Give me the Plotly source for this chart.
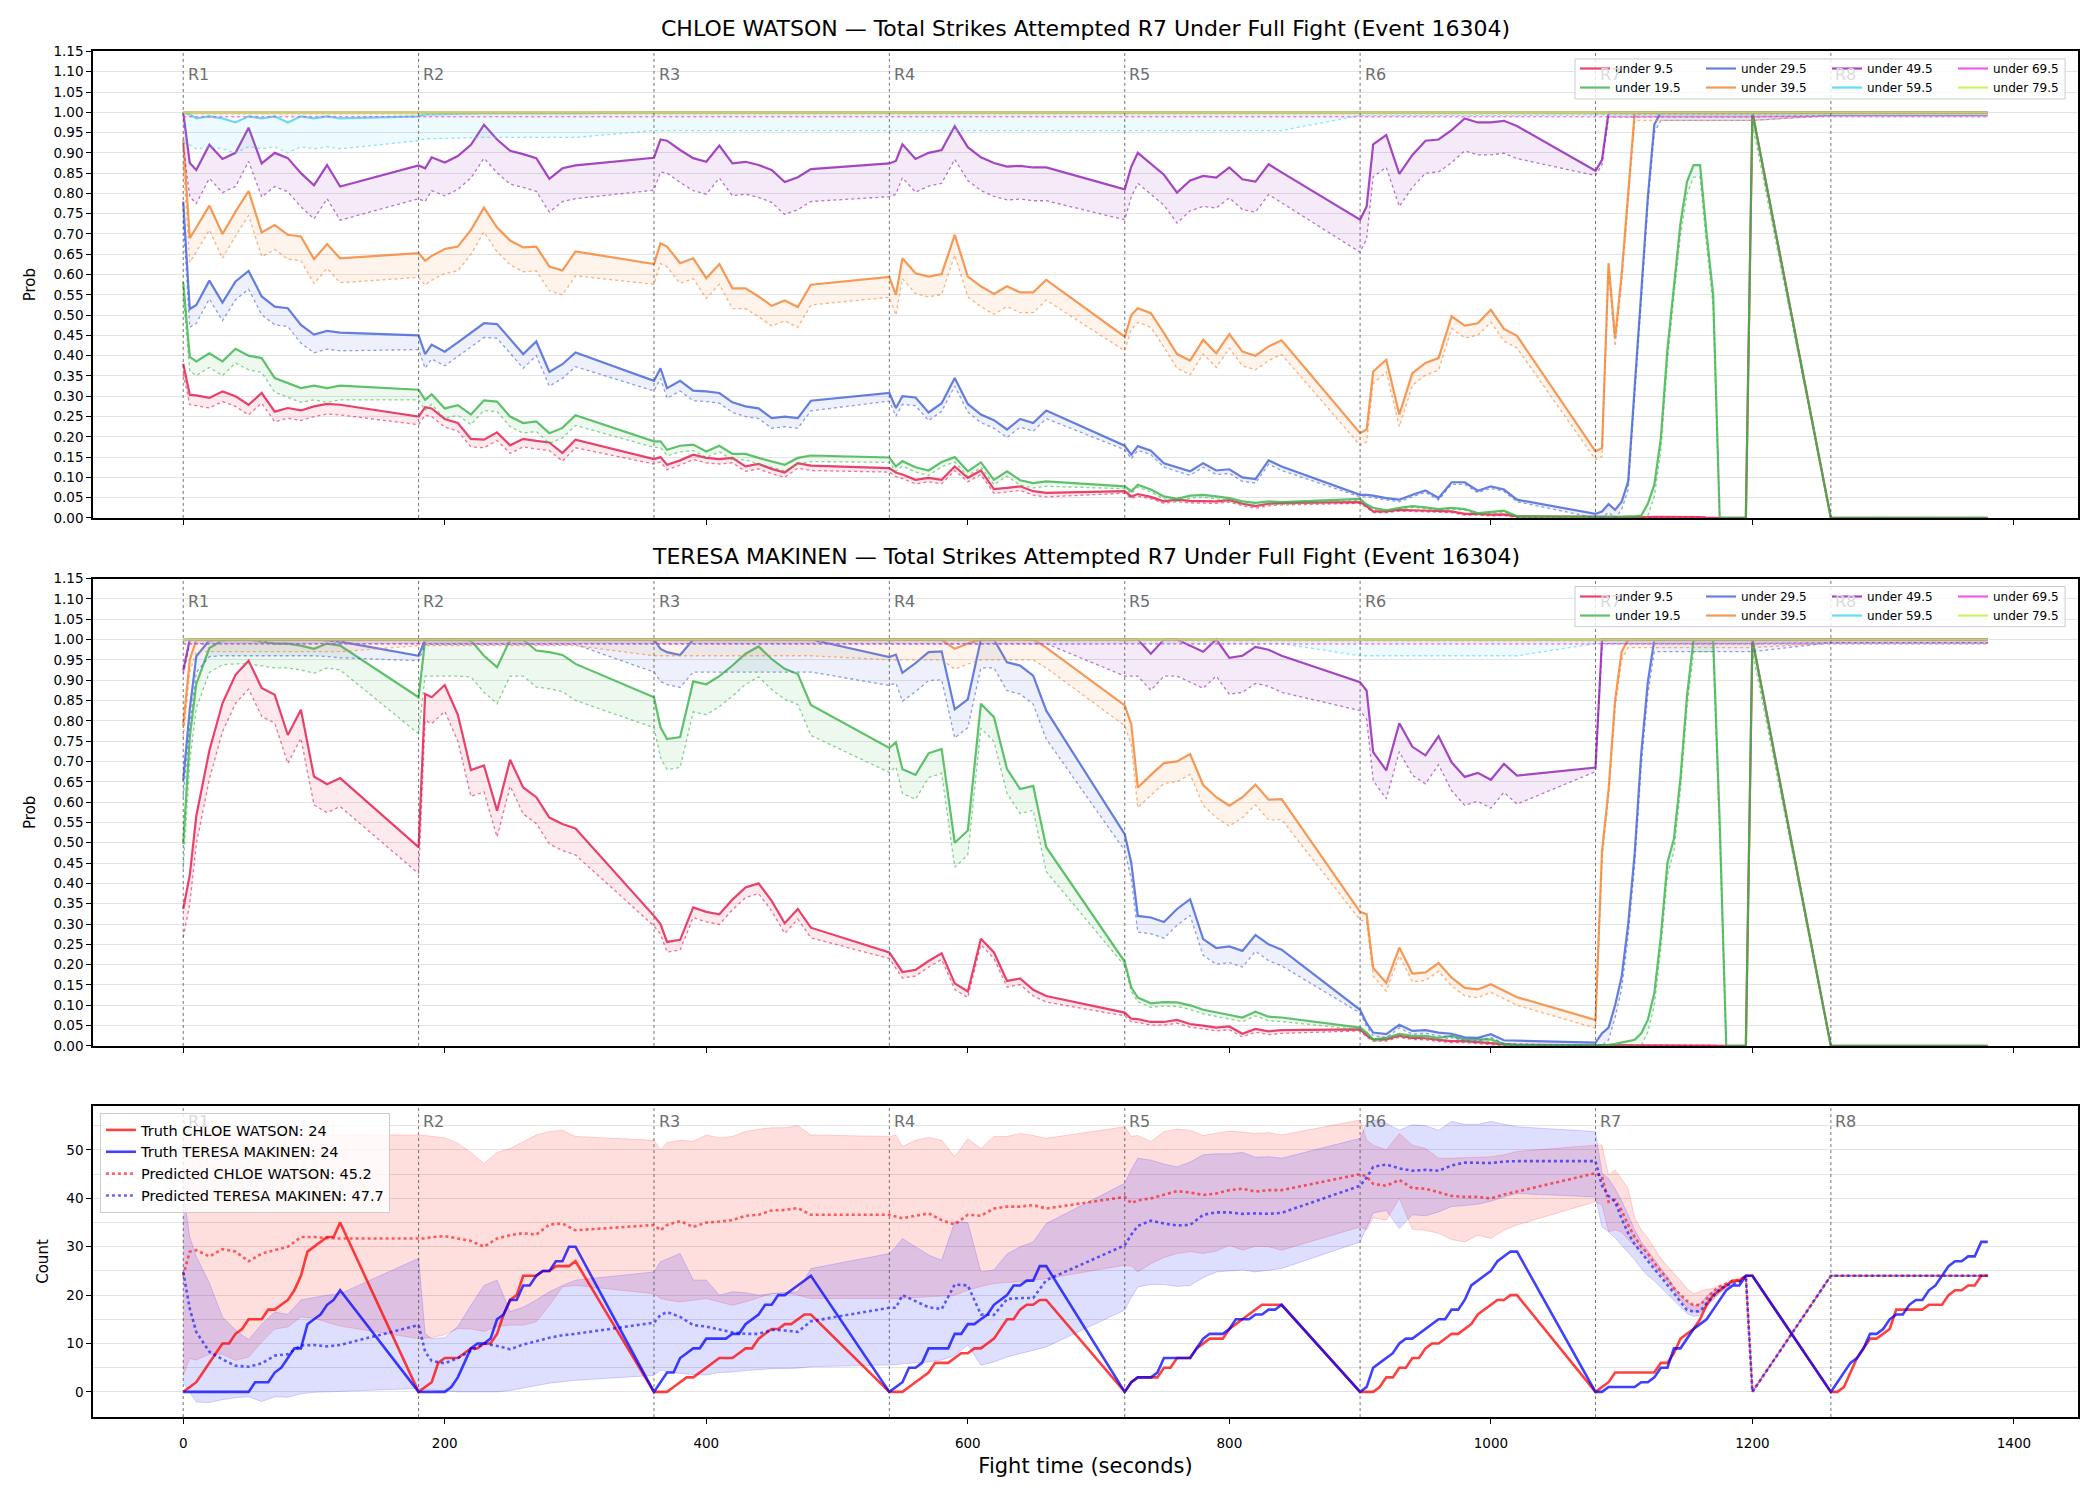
import plotly.graph_objects as go

# ---------------- time grid (seconds) ----------------
ROUND_STARTS = [0, 180, 360, 540, 720, 900, 1080, 1260]
ROUND_NAMES = ["R1", "R2", "R3", "R4", "R5", "R6", "R7", "R8"]
OFFS_STD = [0, 5, 10, 20, 30, 40, 50, 60, 70, 80, 90, 100, 110, 120]
OFFS_R7 = [0, 5, 10, 15, 20, 25, 30, 35, 40, 45, 50, 55, 60, 65, 70, 75, 80, 85, 90, 95, 100, 105, 110, 115, 120]
OFFS_R8 = [0, 120]
OFFS_TRUTH = [0, 5, 10, 15, 20, 25, 30, 35, 40, 45, 50, 55, 60, 65, 70, 75, 80, 85, 90, 95, 100, 105, 110, 115, 120]

THRESHOLDS = [9.5, 19.5, 29.5, 39.5, 49.5, 59.5, 69.5, 79.5]
COLORS = ["#e6194b", "#3cb44b", "#4363d8", "#f58231", "#911eb4", "#42d4f4", "#f032e6", "#bfef45"]

# ---------------- CHLOE WATSON probabilities (per round) ----------------
W_U95 = [
    [0.380, 0.304, 0.302, 0.296, 0.312, 0.300, 0.279, 0.308, 0.262, 0.271, 0.265, 0.275, 0.281, 0.279],
    [0.250, 0.273, 0.270, 0.244, 0.234, 0.195, 0.193, 0.211, 0.179, 0.195, 0.190, 0.186, 0.160, 0.193],
    [0.145, 0.150, 0.131, 0.142, 0.156, 0.148, 0.145, 0.148, 0.127, 0.133, 0.121, 0.112, 0.135, 0.129],
    [0.123, 0.112, 0.107, 0.094, 0.099, 0.094, 0.127, 0.099, 0.117, 0.071, 0.074, 0.078, 0.066, 0.062],
    [0.066, 0.053, 0.059, 0.052, 0.041, 0.045, 0.042, 0.041, 0.041, 0.044, 0.035, 0.029, 0.035, 0.037],
    [0.039, 0.029, 0.016, 0.016, 0.020, 0.019, 0.018, 0.017, 0.016, 0.010, 0.010, 0.008, 0.009, 0.004],
    [0.002, 0.002, 0.002, 0.002, 0.002, 0.002, 0.002, 0.002, 0.002, 0.003, 0.003, 0.003, 0.003, 0.003,
     0.002, 0.002, 0.002, 0.001, 0.001, 0.000, 0.000, 0.000, 0.000, 0.000, 1.000],
    [0.0, 0.0],
]
W_U195 = [
    [0.581, 0.397, 0.386, 0.406, 0.386, 0.417, 0.400, 0.394, 0.345, 0.333, 0.320, 0.326, 0.320, 0.326],
    [0.316, 0.291, 0.305, 0.270, 0.278, 0.255, 0.290, 0.287, 0.250, 0.234, 0.238, 0.209, 0.222, 0.253],
    [0.189, 0.189, 0.168, 0.178, 0.181, 0.164, 0.178, 0.158, 0.158, 0.148, 0.140, 0.131, 0.148, 0.154],
    [0.149, 0.127, 0.140, 0.125, 0.117, 0.138, 0.150, 0.115, 0.137, 0.094, 0.115, 0.093, 0.086, 0.090],
    [0.078, 0.066, 0.082, 0.070, 0.053, 0.047, 0.055, 0.057, 0.053, 0.049, 0.041, 0.037, 0.041, 0.039],
    [0.047, 0.033, 0.025, 0.019, 0.025, 0.029, 0.026, 0.022, 0.025, 0.022, 0.012, 0.015, 0.018, 0.004],
    [0.002, 0.003, 0.002, 0.003, 0.003, 0.004, 0.004, 0.006, 0.035, 0.082, 0.197, 0.415, 0.579, 0.727,
     0.829, 0.870, 0.870, 0.700, 0.550, 0.000, 0.000, 0.000, 0.000, 0.000, 1.000],
    [0.0, 0.0],
]
W_U295 = [
    [0.780, 0.515, 0.525, 0.585, 0.531, 0.583, 0.609, 0.546, 0.521, 0.517, 0.476, 0.452, 0.461, 0.457],
    [0.450, 0.404, 0.427, 0.410, 0.433, 0.456, 0.480, 0.478, 0.441, 0.404, 0.435, 0.360, 0.379, 0.408],
    [0.338, 0.369, 0.320, 0.338, 0.314, 0.312, 0.308, 0.285, 0.275, 0.270, 0.246, 0.250, 0.246, 0.289],
    [0.308, 0.271, 0.300, 0.297, 0.260, 0.283, 0.345, 0.281, 0.255, 0.241, 0.218, 0.244, 0.234, 0.265],
    [0.178, 0.156, 0.177, 0.166, 0.135, 0.125, 0.115, 0.135, 0.117, 0.120, 0.100, 0.096, 0.142, 0.127],
    [0.057, 0.057, 0.055, 0.049, 0.045, 0.057, 0.068, 0.049, 0.088, 0.088, 0.067, 0.078, 0.070, 0.045],
    [0.010, 0.016, 0.034, 0.020, 0.040, 0.090, 0.320, 0.540, 0.790, 0.970] + [1.0] * 15,
    [1.0, 1.0],
]
W_U395 = [
    [0.933, 0.690, 0.716, 0.770, 0.700, 0.755, 0.806, 0.704, 0.722, 0.698, 0.694, 0.638, 0.675, 0.640],
    [0.653, 0.634, 0.646, 0.663, 0.669, 0.710, 0.765, 0.716, 0.684, 0.667, 0.669, 0.620, 0.610, 0.657],
    [0.626, 0.677, 0.669, 0.628, 0.640, 0.591, 0.626, 0.566, 0.566, 0.546, 0.523, 0.536, 0.520, 0.575],
    [0.594, 0.550, 0.640, 0.603, 0.595, 0.601, 0.698, 0.595, 0.571, 0.552, 0.571, 0.556, 0.556, 0.587],
    [0.447, 0.500, 0.517, 0.505, 0.456, 0.404, 0.388, 0.439, 0.406, 0.453, 0.410, 0.400, 0.423, 0.438],
    [0.209, 0.218, 0.361, 0.390, 0.255, 0.357, 0.382, 0.394, 0.497, 0.474, 0.480, 0.513, 0.466, 0.449],
    [0.164, 0.172, 0.628, 0.443, 0.600, 0.800] + [1.0] * 19,
    [1.0, 1.0],
]
W_U495 = [
    [1.000, 0.875, 0.858, 0.920, 0.885, 0.900, 0.962, 0.874, 0.900, 0.887, 0.850, 0.820, 0.870, 0.817],
    [0.869, 0.862, 0.889, 0.876, 0.892, 0.920, 0.969, 0.933, 0.905, 0.897, 0.887, 0.836, 0.862, 0.869],
    [0.888, 0.933, 0.930, 0.907, 0.887, 0.878, 0.918, 0.874, 0.878, 0.870, 0.858, 0.828, 0.840, 0.860],
    [0.874, 0.880, 0.921, 0.885, 0.900, 0.907, 0.966, 0.914, 0.889, 0.875, 0.866, 0.868, 0.864, 0.864],
    [0.810, 0.866, 0.900, 0.872, 0.846, 0.802, 0.832, 0.843, 0.839, 0.864, 0.835, 0.829, 0.872, 0.852],
    [0.735, 0.768, 0.921, 0.944, 0.848, 0.895, 0.930, 0.933, 0.956, 0.985, 0.975, 0.975, 0.979, 0.966],
    [0.856, 0.883] + [1.0] * 23,
    [1.0, 1.0],
]
W_U595 = [
    [1.000, 0.995, 0.985, 0.990, 0.985, 0.975, 0.990, 0.985, 0.990, 0.975, 0.990, 0.985, 0.990, 0.985],
    [0.990, 0.995, 0.995, 0.996, 0.997, 0.998, 0.998, 0.998, 0.998, 0.998, 0.998, 0.998, 0.998, 0.998],
    [1.0] * 14, [1.0] * 14, [1.0] * 14, [1.0] * 14, [1.0] * 25, [1.0, 1.0],
]
W_U695 = [[1.0] * 14] * 6 + [[1.0] * 25, [1.0, 1.0]]
W_U795 = [[1.0] * 14] * 6 + [[1.0] * 25, [1.0, 1.0]]

# width of the dotted lower band under each line, one value per round
W_GAP = [
    [0.025, 0.020, 0.012, 0.010, 0.005, 0.003, 0.000, 0.000],
    [0.035, 0.025, 0.015, 0.012, 0.006, 0.003, 0.030, 0.000],
    [0.045, 0.035, 0.025, 0.020, 0.010, 0.005, 0.020, 0.008],
    [0.060, 0.060, 0.050, 0.050, 0.035, 0.030, 0.020, 0.008],
    [0.083, 0.082, 0.080, 0.082, 0.075, 0.080, 0.012, 0.008],
    [0.075, 0.060, 0.045, 0.045, 0.045, 0.008, 0.006, 0.008],
    [0.011, 0.011, 0.011, 0.011, 0.011, 0.011, 0.011, 0.011],
    [0.005, 0.005, 0.005, 0.005, 0.005, 0.005, 0.005, 0.005],
]

# ---------------- TERESA MAKINEN probabilities (per round) ----------------
M_U95 = [
    [0.337, 0.420, 0.566, 0.727, 0.843, 0.913, 0.948, 0.881, 0.864, 0.765, 0.827, 0.663, 0.644, 0.659],
    [0.489, 0.866, 0.858, 0.888, 0.815, 0.679, 0.690, 0.579, 0.704, 0.636, 0.612, 0.562, 0.546, 0.535],
    [0.320, 0.300, 0.256, 0.261, 0.341, 0.330, 0.324, 0.360, 0.390, 0.400, 0.357, 0.302, 0.337, 0.291],
    [0.230, 0.205, 0.182, 0.187, 0.209, 0.228, 0.154, 0.134, 0.264, 0.230, 0.160, 0.166, 0.138, 0.123],
    [0.082, 0.067, 0.066, 0.059, 0.059, 0.064, 0.054, 0.050, 0.045, 0.048, 0.030, 0.042, 0.036, 0.039],
    [0.041, 0.026, 0.016, 0.016, 0.025, 0.020, 0.019, 0.015, 0.012, 0.012, 0.010, 0.007, 0.004, 0.003],
    [0.002, 0.002, 0.002, 0.002, 0.002, 0.002, 0.002, 0.002, 0.002, 0.002, 0.002, 0.002, 0.002, 0.002,
     0.002, 0.001, 0.001, 0.001, 0.001, 0.000, 0.000, 0.000, 0.000, 0.000, 1.000],
    [0.0, 0.0],
]
M_U195 = [
    [0.497, 0.760, 0.891, 0.979, 0.998, 1.000, 1.000, 0.995, 0.990, 0.990, 0.985, 0.977, 0.990, 0.985],
    [0.858, 1.000, 1.000, 1.000, 1.000, 0.998, 0.960, 0.932, 1.000, 1.000, 0.973, 0.969, 0.962, 0.940],
    [0.858, 0.784, 0.755, 0.760, 0.897, 0.890, 0.910, 0.936, 0.965, 0.983, 0.952, 0.928, 0.915, 0.839],
    [0.733, 0.747, 0.681, 0.667, 0.720, 0.731, 0.500, 0.530, 0.842, 0.809, 0.681, 0.632, 0.640, 0.489],
    [0.207, 0.144, 0.119, 0.105, 0.108, 0.107, 0.100, 0.089, 0.083, 0.077, 0.070, 0.084, 0.072, 0.070],
    [0.045, 0.033, 0.016, 0.020, 0.030, 0.025, 0.025, 0.020, 0.025, 0.016, 0.016, 0.016, 0.005, 0.002],
    [0.002, 0.002, 0.003, 0.005, 0.008, 0.012, 0.015, 0.031, 0.064, 0.130, 0.270, 0.450, 0.510, 0.660,
     0.862, 1.000, 1.000, 1.000, 1.000, 0.550, 0.000, 0.000, 0.000, 0.000, 1.000],
    [0.0, 0.0],
]
M_U295 = [
    [0.653, 0.829, 0.959, 0.998, 1.000, 1.000, 1.000, 1.000, 1.000, 1.000, 1.000, 1.000, 0.998, 0.995],
    [0.960] + [1.0] * 13,
    [1.000, 0.977, 0.969, 0.962, 1.000, 1.000, 1.000, 1.000, 1.000, 1.000, 1.000, 1.000, 1.000, 1.000],
    [0.957, 0.963, 0.918, 0.942, 0.969, 0.971, 0.828, 0.853, 1.000, 1.000, 0.944, 0.936, 0.911, 0.825],
    [0.521, 0.451, 0.320, 0.316, 0.305, 0.337, 0.361, 0.263, 0.241, 0.245, 0.234, 0.273, 0.250, 0.237],
    [0.089, 0.056, 0.033, 0.029, 0.052, 0.037, 0.039, 0.033, 0.030, 0.021, 0.020, 0.029, 0.014, 0.013],
    [0.008, 0.031, 0.045, 0.100, 0.170, 0.300, 0.475, 0.720, 0.895] + [1.0] * 16,
    [1.0, 1.0],
]
M_U395 = [
    [0.788, 0.950] + [1.0] * 12,
    [1.0] * 14,
    [1.0] * 14,
    [1.000, 1.000, 1.000, 1.000, 1.000, 1.000, 0.977, 0.990, 1.000, 1.000, 1.000, 1.000, 1.000, 0.980],
    [0.838, 0.792, 0.636, 0.667, 0.696, 0.700, 0.718, 0.642, 0.612, 0.591, 0.612, 0.643, 0.606, 0.607],
    [0.330, 0.324, 0.192, 0.155, 0.242, 0.178, 0.181, 0.204, 0.168, 0.143, 0.139, 0.152, 0.136, 0.120],
    [0.064, 0.480, 0.630, 0.850, 0.970] + [1.0] * 20,
    [1.0, 1.0],
]
M_U495 = [
    [0.924] + [1.0] * 13,
    [1.0] * 14,
    [1.0] * 14,
    [1.0] * 14,
    [1.000, 1.000, 1.000, 0.965, 1.000, 1.000, 0.985, 0.970, 1.000, 0.955, 0.960, 0.982, 0.975, 0.960],
    [0.895, 0.874, 0.723, 0.678, 0.794, 0.736, 0.715, 0.762, 0.698, 0.662, 0.672, 0.655, 0.694, 0.665],
    [0.685] + [1.0] * 24,
    [1.0, 1.0],
]
M_U595 = [[1.0] * 14] * 6 + [[1.0] * 25, [1.0, 1.0]]
M_U695 = [[1.0] * 14] * 6 + [[1.0] * 25, [1.0, 1.0]]
M_U795 = [[1.0] * 14] * 6 + [[1.0] * 25, [1.0, 1.0]]

M_GAP = [
    [0.070, 0.065, 0.025, 0.015, 0.008, 0.004, 0.000, 0.000],
    [0.060, 0.090, 0.075, 0.060, 0.010, 0.005, 0.030, 0.000],
    [0.040, 0.012, 0.080, 0.070, 0.040, 0.008, 0.030, 0.008],
    [0.030, 0.015, 0.040, 0.050, 0.050, 0.020, 0.020, 0.008],
    [0.010, 0.010, 0.010, 0.010, 0.090, 0.070, 0.010, 0.008],
    [0.010, 0.010, 0.012, 0.012, 0.010, 0.040, 0.010, 0.008],
    [0.011, 0.011, 0.011, 0.011, 0.011, 0.011, 0.011, 0.011],
    [0.005, 0.005, 0.005, 0.005, 0.005, 0.005, 0.005, 0.005],
]

# ---------------- counts panel ----------------
TRUTH_W = [
    [0, 1, 2, 4, 6, 8, 10, 10, 12, 13, 15, 15, 15, 17, 17, 18, 19, 21, 24, 29, 30, 31, 32, 32, 35],
    [0, 1, 2, 6, 7, 7, 7, 8, 9, 9, 10, 10, 12, 16, 19, 20, 24, 24, 24, 25, 25, 26, 26, 26, 27],
    [0, 0, 0, 1, 2, 3, 3, 4, 5, 6, 7, 7, 7, 8, 9, 9, 11, 12, 13, 13, 14, 14, 15, 16, 16],
    [0, 0, 0, 1, 2, 3, 4, 6, 6, 6, 7, 8, 8, 9, 9, 10, 11, 13, 15, 15, 17, 18, 18, 19, 19],
    [0, 2, 3, 3, 3, 3, 5, 5, 7, 7, 7, 9, 10, 11, 11, 11, 13, 14, 15, 16, 17, 18, 18, 18, 18],
    [0, 0, 0, 1, 3, 3, 5, 5, 7, 7, 9, 10, 10, 11, 12, 12, 13, 14, 16, 17, 18, 19, 19, 20, 20],
    [0, 1, 2, 4, 4, 4, 4, 4, 4, 4, 6, 6, 8, 11, 12, 13, 15, 18, 20, 21, 22, 23, 23, 24, 24],
    [0, 0, 1, 4, 7, 9, 11, 11, 12, 13, 17, 17, 17, 17, 17, 18, 18, 18, 20, 21, 21, 22, 22, 24, 24],
]
TRUTH_M = [
    [0, 0, 0, 0, 0, 0, 0, 0, 0, 0, 0, 2, 2, 2, 4, 5, 7, 9, 9, 14, 15, 16, 18, 19, 21],
    [0, 0, 0, 0, 0, 1, 3, 6, 9, 10, 10, 11, 15, 16, 19, 19, 22, 22, 24, 25, 25, 27, 27, 30, 30],
    [0, 2, 4, 4, 7, 8, 9, 9, 11, 11, 11, 11, 12, 12, 14, 15, 16, 18, 18, 20, 20, 21, 22, 23, 24],
    [0, 1, 2, 5, 5, 6, 9, 9, 9, 9, 12, 12, 14, 14, 15, 16, 18, 19, 20, 22, 22, 23, 23, 26, 26],
    [0, 2, 3, 3, 3, 4, 7, 7, 7, 7, 7, 9, 11, 12, 12, 12, 13, 15, 15, 15, 16, 16, 17, 17, 18],
    [0, 1, 5, 6, 7, 8, 10, 11, 11, 12, 13, 14, 15, 15, 17, 17, 19, 22, 23, 24, 25, 27, 28, 29, 29],
    [0, 0, 1, 1, 1, 1, 1, 2, 2, 3, 5, 5, 9, 9, 11, 13, 14, 15, 17, 19, 21, 22, 22, 24, 24],
    [0, 2, 4, 6, 7, 9, 12, 12, 13, 15, 16, 16, 18, 19, 19, 21, 22, 24, 26, 27, 27, 28, 28, 31, 31],
]
PRED_W = [
    [24, 29, 29.3, 28, 29.5, 29, 27, 28.6, 29.3, 30, 32, 32, 31.8, 31.7],
    [31.7, 31.7, 32, 32.2, 31.7, 31.2, 30, 31.7, 32.4, 32.8, 32.5, 34.6, 34.8, 33.4],
    [34.5, 33.4, 34.5, 35.3, 34.1, 35, 35.2, 35.5, 36.4, 36.6, 37.5, 37.6, 38, 36.6],
    [36.6, 36.3, 35.9, 36.4, 36.9, 35.5, 34.6, 36.6, 36.4, 37.9, 38.3, 38.3, 38.6, 37.9],
    [40.3, 39, 39.6, 40, 40.7, 41.5, 41.2, 40.7, 41, 41.7, 42, 41.4, 41.7, 41.7],
    [45, 44.5, 43, 42.6, 43.8, 42.1, 42, 41.2, 40.5, 40.3, 40.3, 40, 40.8, 41.4],
    [45.2, 44.5, 39.3, 39.7, 37.5, 34.5, 32, 30, 28.6, 26.6, 25, 23.3, 21.4, 20, 18.8, 17.9,
     18, 19.2, 20.8, 21.8, 22.4, 23, 23.2, 23.9, 0],
    [24, 24],
]
PRED_M = [
    [24.8, 17.2, 12.4, 8.3, 6.7, 5.4, 5.2, 5.9, 7.5, 7.8, 9.6, 9.7, 9.4, 9.7],
    [13.8, 8.3, 6.4, 5.9, 7, 8.5, 10, 9.5, 8.8, 9.8, 10.5, 11.2, 11.7, 12],
    [14.3, 15.9, 16.5, 15.5, 13.8, 13.5, 12.9, 12.3, 12, 12, 12.8, 12.7, 12.4, 14.6],
    [17.4, 17.4, 20, 18.7, 17.5, 17.1, 22.2, 22, 16, 15.9, 19.2, 19.4, 19.4, 23.1],
    [30.3, 32.5, 34.3, 35.4, 34.8, 34.4, 34.5, 36.6, 37.1, 37.1, 36.8, 36.9, 36.8, 37],
    [42.6, 44.3, 46.5, 47, 46.2, 45.7, 45.9, 45.7, 46.8, 47.4, 47.4, 47.3, 47.6, 47.7],
    [47.7, 42.6, 40.5, 39.3, 35.8, 32.8, 30.5, 28.8, 26.9, 25.4, 23.8, 22.2, 20.4, 18.6, 16.9, 16.6,
     16.7, 18.3, 19.8, 21.2, 22, 22.4, 22.7, 23.9, 0],
    [24, 24],
]
BAND_W_HI = [
    [55, 54, 54, 53.8, 53.6, 53.5, 53.4, 53.4, 53.3, 53.3, 53.3, 53.2, 53.2, 53.1],
    [53.1, 53, 52.8, 52.5, 51.4, 49.5, 47.2, 49.5, 50.3, 51.7, 53.1, 53.8, 54.1, 52.8],
    [52, 50, 51.5, 52, 51.8, 53.1, 52.5, 52.8, 53.8, 54.3, 54.6, 54.6, 55, 53.1],
    [52.8, 53.1, 50.7, 52, 52.6, 52, 48.6, 52.3, 50.3, 52.8, 52.8, 53.4, 53, 52.4],
    [54.8, 52.8, 53, 51.7, 53.8, 54.3, 54.1, 53, 53.5, 53.9, 53.7, 53.4, 53.6, 53.1],
    [56.2, 52, 51, 50, 53.4, 51, 50.3, 48.3, 48.3, 48.4, 48.6, 48.6, 49, 49.7],
    [51, 51, 44.8, 45.9, 44, 42, 35.9, 33.5, 31.8, 29.7, 27.6, 26, 24.6, 23, 21.3, 20.3,
     20.8, 21.2, 21.4, 22, 22.4, 22.8, 23.2, 24, 0],
    [24, 24],
]
BAND_W_LO = [
    [3.4, 6.9, 6.6, 7.8, 7.8, 6.5, 7.2, 10.3, 13, 13.4, 15.5, 15.2, 14.4, 13.6],
    [11, 11.1, 11.2, 11.8, 13.1, 13, 12.5, 13.5, 13.8, 13.8, 14.5, 17.9, 21.7, 22],
    [20.3, 19.3, 19, 18.6, 19, 19.3, 18.6, 17.9, 18.6, 19.5, 20.3, 20.5, 20, 19.3],
    [19.3, 19.3, 19.3, 19.5, 19.6, 19.8, 20, 21, 21.8, 22.4, 22.6, 22.8, 23.1, 23.4],
    [26.2, 26, 24.8, 26.5, 27.8, 28.6, 29, 28.6, 29.1, 30.3, 29.3, 30.1, 30, 29.3],
    [34.1, 33.5, 36, 35.5, 40, 33.6, 33.4, 32.8, 31.5, 31, 32.4, 31.7, 33.4, 34.5],
    [39.3, 38.6, 33.1, 33.5, 33, 31.5, 30.3, 29, 27.5, 26, 24.4, 22.8, 21, 19, 17.5, 16.6,
     16.4, 17.5, 19.3, 20.5, 21.7, 22.6, 23, 23.8, 0],
    [24, 24],
]
BAND_M_HI = [
    [41.4, 32, 28, 22.5, 15.5, 12.8, 10.8, 14, 16.5, 16, 19, 19.5, 20, 20.3],
    [27.6, 12, 11, 11.2, 13.5, 17.9, 22, 23.1, 16.6, 17.5, 19, 20.7, 22, 23.1],
    [24.8, 26.9, 27.5, 28.6, 23.1, 23.1, 20, 20.7, 20.5, 20, 20.3, 20.5, 20.7, 25.5],
    [28.6, 30, 31.7, 30, 28.3, 27.2, 35.2, 35, 24.8, 25.2, 28.5, 30, 31, 34.8],
    [43.1, 45.9, 48.3, 47.9, 47.1, 46.5, 47.5, 49, 49.2, 49.2, 49.5, 48.5, 48.6, 48.3],
    [52.4, 55.5, 56.2, 55.5, 54.1, 55.2, 55, 54.1, 55.9, 55.3, 55.3, 55.9, 55.3, 54.8],
    [53.8, 45.2, 44.1, 42, 39.5, 36.5, 33.5, 31, 29.2, 27.5, 25.8, 23.8, 21.8, 19.8, 18.6, 17.8,
     18.2, 19.8, 20.8, 21.6, 22.1, 22.5, 23, 24, 0],
    [24, 24],
]
BAND_M_LO = [
    [2, 0, -2.1, -2.2, -1.6, -1.2, -1, -2, -1, -1.1, -0.4, -0.1, 0, 0],
    [0.7, 0.5, 0.4, 0.3, 0, 0, 0, 0, 0.3, 0.8, 1.4, 1.8, 2.1, 2.4],
    [3.4, 4.5, 4.2, 3.8, 3.6, 3.5, 4, 4.1, 4.4, 4.6, 4.8, 4.8, 4.9, 5.2],
    [5.5, 5.6, 5.8, 6, 6.2, 6.6, 7.5, 9.7, 5.5, 6.2, 7.2, 7.9, 8.6, 9.3],
    [16.9, 19.5, 21.7, 22.2, 22.2, 21.8, 22, 23.6, 24.8, 25, 25.2, 24.8, 25.2, 25.5],
    [31, 34, 37, 37.5, 33.8, 36.6, 36.4, 37.2, 38.3, 38.5, 38.8, 39.4, 40.3, 41],
    [40.3, 34.1, 33.1, 31.8, 30.3, 29, 27.3, 25.5, 24, 22.9, 21.6, 20.3, 19, 17.5, 16.2, 15.6,
     15.8, 17.8, 19, 20.5, 21.3, 22.2, 22.8, 23.9, 0],
    [24, 24],
]

LEGEND_TRUTH_W = "Truth CHLOE WATSON: 24"
LEGEND_TRUTH_M = "Truth TERESA MAKINEN: 24"
LEGEND_PRED_W = "Predicted CHLOE WATSON: 45.2"
LEGEND_PRED_M = "Predicted TERESA MAKINEN: 47.7"
TITLE_W = "CHLOE WATSON \u2014 Total Strikes Attempted R7 Under Full Fight (Event 16304)"
TITLE_M = "TERESA MAKINEN \u2014 Total Strikes Attempted R7 Under Full Fight (Event 16304)"

# ---------------- helpers ----------------
PROB_OFFS = [OFFS_STD] * 6 + [OFFS_R7, OFFS_R8]
T_PROB = [s + o for s, offs in zip(ROUND_STARTS, PROB_OFFS) for o in offs]
ROUND_OF = [i for i, offs in enumerate(PROB_OFFS) for _ in offs]
T_TRUTH = [s + o for s in ROUND_STARTS for o in OFFS_TRUTH]


def flat(name, rounds, offs_list):
    if len(rounds) != len(offs_list):
        raise ValueError(f"{name}: {len(rounds)} rounds")
    out = []
    for i, (r, offs) in enumerate(zip(rounds, offs_list)):
        if len(r) != len(offs):
            raise ValueError(f"{name} round {i+1}: {len(r)} values, expected {len(offs)}")
        out.extend(r)
    return out


def rgba(hexc, a):
    h = hexc.lstrip("#")
    return f"rgba({int(h[0:2],16)},{int(h[2:4],16)},{int(h[4:6],16)},{a})"


fig = go.Figure()
FONT = "DejaVu Sans"


def add_prob_panel(series, gaps, xa, ya, leg_a, leg_b, tag):
    for k, (thr, col, rounds) in enumerate(zip(THRESHOLDS, COLORS, series)):
        vals = flat(f"{tag}{thr}", rounds, PROB_OFFS)
        lower = [max(0.0, v - gaps[k][ri]) for v, ri in zip(vals, ROUND_OF)]
        leg = leg_a if k % 2 == 0 else leg_b
        fig.add_trace(go.Scatter(
            x=T_PROB, y=vals, xaxis=xa, yaxis=ya, mode="lines",
            line=dict(color=rgba(col, 0.82), width=2.2),
            name=f"under {thr}", legend=leg, hoverinfo="skip"))
        fig.add_trace(go.Scatter(
            x=T_PROB, y=lower, xaxis=xa, yaxis=ya, mode="lines",
            line=dict(color=rgba(col, 0.6), width=1.3, dash="dot"),
            fill="tonexty", fillcolor=rgba(col, 0.09),
            showlegend=False, hoverinfo="skip"))


add_prob_panel([W_U95, W_U195, W_U295, W_U395, W_U495, W_U595, W_U695, W_U795], W_GAP,
               "x", "y", "legend", "legend2", "W")
add_prob_panel([M_U95, M_U195, M_U295, M_U395, M_U495, M_U595, M_U695, M_U795], M_GAP,
               "x2", "y2", "legend3", "legend4", "M")

# counts panel: bands
for lo, hi, col, nm in [(BAND_W_LO, BAND_W_HI, "#ff0000", "W"), (BAND_M_LO, BAND_M_HI, "#0000ff", "M")]:
    fig.add_trace(go.Scatter(x=T_PROB, y=flat("hi" + nm, hi, PROB_OFFS), xaxis="x3", yaxis="y3",
                             mode="lines", line=dict(color=rgba(col, 0.16), width=1),
                             showlegend=False, hoverinfo="skip"))
    fig.add_trace(go.Scatter(x=T_PROB, y=flat("lo" + nm, lo, PROB_OFFS), xaxis="x3", yaxis="y3",
                             mode="lines", line=dict(color=rgba(col, 0.16), width=1),
                             fill="tonexty", fillcolor=rgba(col, 0.13),
                             showlegend=False, hoverinfo="skip"))

fig.add_trace(go.Scatter(x=T_TRUTH, y=flat("tw", TRUTH_W, [OFFS_TRUTH] * 8), xaxis="x3", yaxis="y3",
                         mode="lines", line=dict(color="rgba(255,0,0,0.75)", width=2.6),
                         name=LEGEND_TRUTH_W, legend="legend5", hoverinfo="skip"))
fig.add_trace(go.Scatter(x=T_TRUTH, y=flat("tm", TRUTH_M, [OFFS_TRUTH] * 8), xaxis="x3", yaxis="y3",
                         mode="lines", line=dict(color="rgba(0,0,255,0.75)", width=2.6),
                         name=LEGEND_TRUTH_M, legend="legend5", hoverinfo="skip"))
fig.add_trace(go.Scatter(x=T_PROB, y=flat("pw", PRED_W, PROB_OFFS), xaxis="x3", yaxis="y3",
                         mode="lines", line=dict(color="rgba(255,0,0,0.6)", width=2.6, dash="dot"),
                         name=LEGEND_PRED_W, legend="legend5", hoverinfo="skip"))
fig.add_trace(go.Scatter(x=T_PROB, y=flat("pm", PRED_M, PROB_OFFS), xaxis="x3", yaxis="y3",
                         mode="lines", line=dict(color="rgba(0,0,255,0.6)", width=2.6, dash="dot"),
                         name=LEGEND_PRED_M, legend="legend5", hoverinfo="skip"))

# ---------------- layout ----------------
XR = [-69, 1449]
XT = [0, 200, 400, 600, 800, 1000, 1200, 1400]
PROB_TICKS = [round(i * 0.05, 2) for i in range(24)]
GRID = "#e3e3e3"
axis_common = dict(showline=True, mirror=True, linecolor="black", linewidth=1.6,
                   ticks="outside", ticklen=5, tickwidth=1.3, tickcolor="black",
                   zeroline=False, automargin=False, tickfont=dict(size=13.5, family=FONT))

fig.update_layout(
    width=2100, height=1500,
    margin=dict(l=93, r=22, t=0, b=0, autoexpand=False),
    paper_bgcolor="white", plot_bgcolor="white",
    font=dict(family=FONT, size=13.5, color="black"),
    xaxis=dict(domain=[0, 1], anchor="y", range=XR, tickvals=XT, showticklabels=False,
               showgrid=False, **axis_common),
    xaxis2=dict(domain=[0, 1], anchor="y2", range=XR, tickvals=XT, showticklabels=False,
                showgrid=False, **axis_common),
    xaxis3=dict(domain=[0, 1], anchor="y3", range=XR, tickvals=XT, showgrid=False,
                ticklabelstandoff=8,
                title=dict(text="Fight time (seconds)", font=dict(size=21, family=FONT), standoff=8),
                **axis_common),
    yaxis=dict(domain=[0.6547, 0.9657], anchor="x", range=[0, 1.15], tickvals=PROB_TICKS,
               tickformat=".2f", showgrid=True, gridcolor=GRID, gridwidth=1,
               title=dict(text="Prob", font=dict(size=15, family=FONT), standoff=14), **axis_common),
    yaxis2=dict(domain=[0.3027, 0.6143], anchor="x2", range=[0, 1.15], tickvals=PROB_TICKS,
                tickformat=".2f", showgrid=True, gridcolor=GRID, gridwidth=1,
                title=dict(text="Prob", font=dict(size=15, family=FONT), standoff=14), **axis_common),
    yaxis3=dict(domain=[0.0553, 0.2627], anchor="x3", range=[-5.2, 59.1], tick0=0, dtick=10,
                showgrid=True, gridcolor=GRID, gridwidth=1,
                minor=dict(dtick=5, tick0=0, showgrid=True, gridcolor=GRID, gridwidth=1, ticks=""),
                title=dict(text="Count", font=dict(size=15, family=FONT), standoff=14), **axis_common),
)

leg_h = dict(xanchor="left", yanchor="top", orientation="h", bgcolor="rgba(0,0,0,0)", borderwidth=0,
             font=dict(size=12, family=FONT), entrywidth=81, entrywidthmode="pixels", itemwidth=30,
             tracegroupgap=0, traceorder="normal")
fig.update_layout(
    legend=dict(x=0.7466, y=0.9640, **leg_h),
    legend2=dict(x=0.7466, y=0.9513, **leg_h),
    legend3=dict(x=0.7466, y=0.6120, **leg_h),
    legend4=dict(x=0.7466, y=0.5993, **leg_h),
    legend5=dict(x=0.0035, y=0.258, xanchor="left", yanchor="top", orientation="v",
                 bgcolor="rgba(255,255,255,0.8)", bordercolor="#cccccc", borderwidth=1,
                 font=dict(size=14.5, family=FONT), itemwidth=30, tracegroupgap=0,
                 traceorder="normal"),
)

shapes = []
for ya in ["y", "y2", "y3"]:
    xa = {"y": "x", "y2": "x2", "y3": "x3"}[ya]
    for s in ROUND_STARTS:
        shapes.append(dict(type="line", xref=xa, yref=f"{ya} domain", x0=s, x1=s, y0=0, y1=1,
                           line=dict(color="rgba(70,70,70,0.75)", width=1, dash="dot"), layer="above"))
for y0, y1 in [(0.934, 0.9607), (0.5822, 0.6090)]:
    shapes.append(dict(type="rect", xref="paper", yref="paper", x0=0.7466, x1=0.9935, y0=y0, y1=y1,
                       fillcolor="rgba(255,255,255,0.8)", line=dict(color="#cccccc", width=1),
                       layer="above"))
fig.update_layout(shapes=shapes)

ann = []
for xa, ya, ylab in [("x", "y", 1.093), ("x2", "y2", 1.093), ("x3", "y3", 55.9)]:
    for i, (s, nm) in enumerate(zip(ROUND_STARTS, ROUND_NAMES)):
        hidden = (ya != "y3" and i >= 6) or (ya == "y3" and i == 0)
        ann.append(dict(x=s + 2, y=ylab, xref=xa, yref=ya, text=nm, showarrow=False,
                        xanchor="left", yanchor="middle",
                        font=dict(size=16, family=FONT, color="#dadada" if hidden else "#6e6e6e")))
ann.append(dict(x=0.5, y=0.9810, xref="paper", yref="paper", text=TITLE_W, showarrow=False,
                xanchor="center", yanchor="middle", font=dict(size=22, family=FONT, color="black")))
ann.append(dict(x=0.5, y=0.6290, xref="paper", yref="paper", text=TITLE_M, showarrow=False,
                xanchor="center", yanchor="middle", font=dict(size=22, family=FONT, color="black")))
fig.update_layout(annotations=ann)

fig.write_html("out.html")
